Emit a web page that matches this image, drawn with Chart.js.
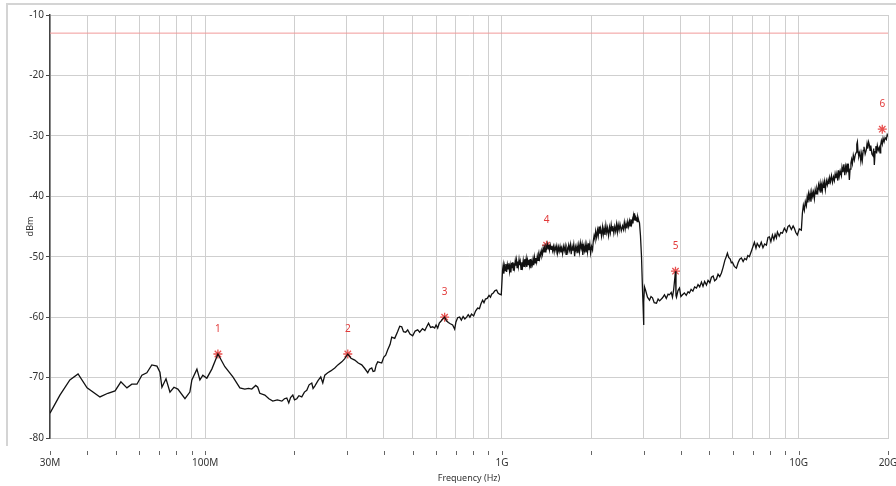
<!DOCTYPE html>
<html>
<head>
<meta charset="utf-8">
<script src="https://cdn.jsdelivr.net/npm/chart.js@4"></script>
<style>
  html, body { margin: 0; padding: 0; background: #fff; }
  #wrap { width: 896px; height: 486px; position: relative; }
</style>
</head>
<body>
<div id="wrap"><canvas id="c" width="896" height="486"></canvas></div>
<script>
"use strict";
// spectrum trace, [frequency in MHz, level in dBm]
const trace = [
  [30,-75.9],[32.4,-72.9],[35,-70.4],[37.3,-69.4],[40,-71.7],[44.2,-73.2],[47,-72.6],[49.7,-72.2],
  [52,-70.7],[54.5,-71.7],[56.6,-71.1],[58.9,-71.1],[61.2,-69.6],[63.6,-69.2],[66.1,-67.9],[68.8,-68.1],
  [70.4,-69.1],[71.5,-71.6],[73.8,-70.2],[76.1,-72.4],[78.5,-71.6],[80.9,-71.9],[85.5,-73.5],[88.8,-72.4],
  [90.2,-70.4],[93.8,-68.6],[96,-70.4],[98.2,-69.6],[101.3,-70.1],[105.3,-68.6],[110.4,-66.1],
  [116.5,-68.2],[124,-69.9],[130.9,-71.7],[136,-71.9],[140,-71.8],[143.6,-71.9],[148,-71.3],[150.4,-71.6],
  [152.8,-72.6],[158.9,-72.9],[164,-73.5],[169,-73.9],[175,-73.7],[181.3,-73.9],[185,-73.5],[188.4,-73.4],
  [191.3,-74.2],[194,-73.3],[197.4,-72.9],[200,-73.7],[203.6,-73.5],[207,-73.0],[211.6,-73.2],[216,-72.4],
  [220,-72.1],[224,-71.2],[228.7,-70.9],[231,-71.8],[234.1,-71.4],[240,-70.5],[245.2,-69.9],[249.1,-70.9],
  [253,-69.6],[258.9,-69.2],[265,-68.9],[273.4,-68.4],[280,-67.9],[288.7,-67.4],[295,-66.9],[302.4,-66.1],
  [310,-66.8],[319.2,-67.1],[328,-67.6],[337,-67.9],[345,-68.5],[353.1,-69.2],[358,-68.6],[364.2,-68.4],
  [368,-69.0],[372.8,-68.9],[377,-67.9],[381.6,-67.4],[393.5,-67.6],[400,-66.6],[405.9,-66.3],[412.3,-65.4],
  [420,-64.5],[425.3,-63.3],[435.3,-63.5],[445,-62.4],[452.5,-61.5],[459.6,-61.6],[466,-62.4],[474,-62.5],
  [481.4,-62.1],[490,-62.8],[500.4,-63.1],[510,-62.3],[520.2,-62.1],[528.3,-62.5],[540,-61.9],[550,-62.2],
  [557.8,-61.6],[566,-61.0],[575,-61.7],[584.4,-61.6],[593.5,-61.8],[600,-61.3],[607.5,-61.8],[615,-61.0],
  [625,-60.6],[632,-60.3],[641.2,-60.0],[650,-60.6],[660,-60.9],[670,-61.1],[682.3,-61.3],[693,-62.0],
  [700,-60.8],[709.3,-60.1],[720.4,-60.0],[730,-60.5],[740,-59.9],[750,-60.3],[760.5,-60.0],[770,-59.6],
  [780,-60.0],[790,-59.5],[803,-59.8],[815,-59.0],[828.3,-58.5],[840,-58.6],[850,-57.8],[861,-57.2],
  [870,-57.6],[880,-57.0],[892,-56.9],[905,-56.4],[915,-56.7],[923.4,-56.2],[935,-56.0],[948,-55.6],
  [959.8,-55.5],[970,-56.0],[982.2,-56.2],[995,-56.3],
  [1005,-52.2],[1010,-51.4],[1015,-52.8],[1020,-51.6],[1025,-52.3],[1031,-51.2],[1037,-52.5],[1043,-51.3],
  [1049,-52.0],[1055,-51.1],[1061,-52.4],[1066,-51.5],[1072,-52.6],[1078,-51.0],[1083,-51.8],[1088,-50.9],
  [1093,-52.2],[1098,-51.1],[1103,-51.8],[1109,-50.7],[1114,-51.5],[1120,-50.6],[1125,-51.8],[1131,-50.8],
  [1136,-51.6],[1142,-50.5],[1147,-51.4],[1153,-50.8],[1160,-52.1],[1167,-50.9],[1174,-51.6],[1180,-50.6],
  [1187,-51.6],[1193,-50.4],[1200,-51.2],[1207,-50.3],[1213,-51.7],[1220,-50.6],[1226,-51.3],[1233,-50.5],
  [1239,-51.4],[1246,-50.4],[1252,-51.9],[1259,-50.8],[1266,-51.3],[1273,-50.4],[1280,-51.4],[1287,-50.1],
  [1294,-51.0],[1301,-50.2],[1309,-50.9],[1316,-49.9],[1324,-50.6],[1331,-49.7],[1339,-50.3],[1346,-49.3],
  [1354,-49.8],[1362,-49.0],[1370,-49.6],[1377,-48.6],[1385,-49.3],[1392,-48.5],[1400,-49.2],[1407,-48.3],
  [1414,-48.6],[1422,-47.9],[1430,-48.7],[1438,-48.0],[1446,-48.9],[1455,-48.1],[1464,-48.8],[1473,-48.2],
  [1482,-49.0],[1491,-48.3],[1500,-49.2],[1510,-48.3],[1520,-48.9],[1530,-48.2],[1540,-49.4],[1550,-48.4],
  [1560,-49.1],[1570,-48.3],[1580,-49.3],[1590,-48.6],[1601,-49.5],[1611,-48.3],[1622,-49.0],[1633,-48.2],
  [1645,-49.6],[1656,-48.5],[1668,-49.1],[1679,-48.1],[1690,-48.9],[1701,-48.0],[1712,-49.6],[1724,-48.3],
  [1735,-49.0],[1746,-48.0],[1758,-49.9],[1769,-48.4],[1780,-49.0],[1791,-48.2],[1803,-49.4],[1815,-48.1],
  [1826,-49.2],[1838,-47.7],[1850,-48.6],[1862,-47.9],[1873,-49.7],[1885,-48.3],[1897,-49.0],[1908,-48.0],
  [1920,-49.3],[1932,-48.1],[1943,-49.2],[1955,-47.8],[1965,-48.9],[1978,-47.9],[1990,-49.4],[2005,-48.3],
  [2020,-48.9],[2032,-47.4],[2045,-46.5],[2058,-47.1],[2070,-45.8],[2085,-46.8],[2100,-45.6],[2112,-46.5],
  [2125,-45.0],[2138,-46.2],[2150,-45.4],[2166,-46.6],[2183,-45.1],[2196,-46.3],[2210,-45.3],[2225,-46.4],
  [2240,-44.8],[2255,-46.0],[2270,-45.2],[2288,-46.5],[2305,-45.1],[2320,-46.0],[2335,-44.7],[2350,-45.7],
  [2365,-44.9],[2383,-46.1],[2400,-45.0],[2417,-45.8],[2434,-44.6],[2450,-45.9],[2465,-44.7],[2483,-45.6],
  [2500,-44.6],[2525,-45.7],[2549,-44.9],[2567,-45.5],[2585,-44.3],[2603,-45.4],[2620,-44.5],[2638,-45.3],
  [2655,-44.2],[2673,-45.0],[2691,-44.1],[2705,-44.9],[2720,-43.8],[2737,-44.6],[2754,-43.9],[2765,-44.5],
  [2775,-43.3],[2787,-43.9],[2798,-42.8],[2810,-43.9],[2820,-43.2],[2831,-44.0],[2841,-43.5],[2855,-44.2],
  [2870,-43.4],[2890,-44.0],[2908,-44.4],[2930,-46.5],[2954,-50.0],[2977,-55.5],[2990,-58.0],[3000,-61.3],
  [3010,-57.5],[3023,-55.0],[3050,-55.6],[3094,-56.7],[3143,-57.2],[3180,-56.6],[3217,-56.8],[3260,-57.6],
  [3318,-57.7],[3360,-57.0],[3400,-57.3],[3477,-56.8],[3530,-56.3],[3580,-56.9],[3630,-56.2],[3669,-56.3],
  [3720,-55.9],[3756,-56.7],[3790,-55.5],[3845,-52.4],[3860,-56.4],[3875,-56.7],[3920,-55.6],[3966,-55.2],
  [4010,-56.6],[4059,-56.3],[4120,-56.0],[4180,-56.4],[4240,-55.8],[4286,-56.0],[4340,-55.4],[4400,-55.7],
  [4460,-55.0],[4525,-55.2],[4580,-54.6],[4640,-55.0],[4703,-54.2],[4760,-54.9],[4820,-54.1],[4889,-54.7],
  [4950,-53.9],[5020,-54.3],[5082,-53.4],[5150,-53.2],[5210,-54.0],[5283,-53.7],[5350,-52.9],[5420,-53.3],
  [5492,-52.7],[5560,-51.8],[5640,-50.6],[5700,-50.0],[5753,-49.4],[5810,-50.1],[5880,-50.4],[5930,-51.0],
  [5981,-50.9],[6070,-51.6],[6169,-51.9],[6250,-51.0],[6330,-50.4],[6413,-50.2],[6500,-50.8],[6580,-50.3],
  [6666,-50.5],[6740,-49.8],[6823,-50.0],[6950,-48.9],[7093,-47.6],[7180,-48.6],[7250,-47.8],[7373,-48.4],
  [7480,-47.6],[7580,-48.5],[7680,-47.9],[7786,-48.1],[7880,-46.8],[7970,-46.7],[8060,-47.5],[8157,-46.4],
  [8250,-47.2],[8330,-46.3],[8414,-46.9],[8480,-45.9],[8600,-46.6],[8700,-46.0],[8815,-46.1],[8950,-45.3],
  [9100,-45.9],[9200,-45.0],[9305,-44.8],[9450,-45.5],[9580,-44.9],[9672,-45.3],[9780,-46.0],[9899,-46.4],
  [10050,-45.4],[10211,-45.6],
  [10292,-42.8],[10370,-41.5],[10450,-42.3],[10530,-40.9],[10615,-41.6],[10680,-40.2],[10740,-41.0],[10800,-39.6],
  [10865,-40.4],[10930,-39.5],[11000,-40.9],[11080,-39.2],[11150,-40.0],[11220,-39.3],[11295,-40.4],[11370,-38.9],
  [11450,-39.6],[11520,-38.7],[11600,-39.3],[11670,-38.1],[11741,-38.8],[11810,-37.9],[11880,-39.4],[11950,-38.2],
  [12017,-39.0],[12080,-37.8],[12150,-38.6],[12220,-37.6],[12300,-38.9],[12400,-37.4],[12492,-38.1],[12570,-37.3],
  [12650,-38.0],[12720,-36.9],[12800,-37.6],[12900,-36.6],[13000,-37.7],[13100,-36.8],[13192,-37.4],[13270,-36.3],
  [13350,-37.0],[13450,-36.2],[13550,-37.4],[13620,-35.7],[13700,-36.7],[13800,-35.8],[13929,-36.6],[14000,-35.2],
  [14100,-36.0],[14200,-34.7],[14300,-36.5],[14400,-35.1],[14479,-35.8],[14560,-34.6],[14650,-36.0],[14730,-35.3],
  [14820,-37.3],[14900,-35.5],[15000,-34.5],[15080,-33.9],[15169,-34.6],[15280,-33.2],[15400,-34.0],[15520,-33.1],
  [15647,-32.7],[15700,-31.4],[15769,-31.0],[15850,-32.6],[15950,-33.4],[16080,-32.7],[16200,-34.2],[16300,-33.0],
  [16390,-34.0],[16500,-32.4],[16600,-31.8],[16750,-33.0],[16900,-32.3],[17000,-31.3],[17100,-32.1],[17200,-31.0],
  [17308,-31.5],[17400,-32.4],[17500,-31.6],[17650,-33.0],[17800,-33.3],[17900,-32.1],[17987,-34.8],[18100,-32.6],
  [18200,-31.7],[18300,-32.9],[18411,-31.6],[18550,-32.4],[18700,-31.9],[18800,-32.8],[18900,-31.5],[19000,-30.8],
  [19130,-31.4],[19250,-30.4],[19400,-31.0],[19550,-30.3],[19741,-30.6],[19880,-29.8],[20000,-30.1]
];

// peak markers 1..6
const markerFreq = [110.4, 302.4, 641.2, 1414, 3845, 19130];
const markerLevel = [-66.1, -66.1, -60.0, -48.1, -52.4, -28.9];
const markerNames = ["1", "2", "3", "4", "5", "6"];

const limitLevel = -13;
const freqMin = 30, freqMax = 20000;

const xTickVals = [30, 40, 50, 60, 70, 80, 90, 100, 200, 300, 400, 500, 600, 700, 800, 900,
  1000, 2000, 3000, 4000, 5000, 6000, 7000, 8000, 9000, 10000, 20000];
const xTickNames = { 30: "30M", 100: "100M", 1000: "1G", 10000: "10G", 20000: "20G" };
const yTickVals = [-80, -70, -60, -50, -40, -30, -20, -10];

const FONT = "'Noto Sans', 'DejaVu Sans', sans-serif";
const GRID = "#cfcfcf";

const decor = {
  id: "decor",
  beforeDraw(chart) {
    const { ctx } = chart;
    ctx.save();
    ctx.strokeStyle = "#d4d4d4";
    ctx.lineWidth = 2;
    ctx.beginPath();
    ctx.moveTo(7, 446); ctx.lineTo(7, 4); ctx.lineTo(896, 4);
    ctx.stroke();
    ctx.restore();
  },
  afterDraw(chart) {
    const { ctx, chartArea } = chart;
    const x = chart.scales.x;
    ctx.save();
    ctx.strokeStyle = "#666";
    ctx.lineWidth = 1;
    x.ticks.forEach((t) => {
      const px = Math.round(x.getPixelForValue(t.value)) + 0.5;
      ctx.beginPath();
      ctx.moveTo(px, chartArea.bottom + 13);
      ctx.lineTo(px, chartArea.bottom + 17);
      ctx.stroke();
    });
    // marker numbers
    const meta = chart.getDatasetMeta(2);
    ctx.fillStyle = "#e23a3a";
    ctx.font = "10px " + FONT;
    ctx.textAlign = "center";
    ctx.textBaseline = "middle";
    meta.data.forEach((pt, i) => ctx.fillText(markerNames[i], pt.x, pt.y - 25));
    ctx.restore();
  },
};

new Chart(document.getElementById("c"), {
  type: "line",
  data: {
    datasets: [
      { data: [{ x: freqMin, y: limitLevel }, { x: freqMax, y: limitLevel }],
        borderColor: "#f19a9a", borderWidth: 1, pointRadius: 0 },
      { data: trace.map((p) => ({ x: p[0], y: p[1] })),
        borderColor: "#111", borderWidth: 1.3, pointRadius: 0, tension: 0 },
      { data: markerFreq.map((f, i) => ({ x: f, y: markerLevel[i] })),
        showLine: false, pointStyle: "star", pointRadius: 4.5, borderWidth: 1.3,
        borderColor: "#e8504f", backgroundColor: "#e8504f" },
    ],
  },
  options: {
    responsive: false, animation: false,
    layout: { padding: { top: 15, right: 8, left: 0, bottom: 0 } },
    plugins: { legend: { display: false }, tooltip: { enabled: false } },
    scales: {
      x: {
        type: "logarithmic", min: freqMin, max: freqMax,
        afterBuildTicks: (s) => { s.ticks = xTickVals.map((v) => ({ value: v })); },
        afterFit: (s) => { s.height = 48; s.paddingLeft = 0; s.paddingRight = 0; },
        ticks: { autoSkip: false, maxRotation: 0, padding: 19, color: "#333",
          font: { family: FONT, size: 10 },
          callback: (v) => xTickNames[v] || "" },
        grid: { color: GRID, drawTicks: false },
        border: { color: GRID },
        title: { display: true, text: "Frequency (Hz)", color: "#333",
          font: { family: FONT, size: 9 }, padding: { top: 0, bottom: 2 } },
      },
      y: {
        min: -80, max: -10,
        afterBuildTicks: (s) => { s.ticks = yTickVals.map((v) => ({ value: v })); },
        afterFit: (s) => { s.width = 50; s.paddingTop = 0; s.paddingBottom = 0; },
        ticks: { padding: 2, color: "#333", font: { family: FONT, size: 10 } },
        grid: { color: GRID, tickLength: 4, tickColor: "#444" },
        border: { color: "#444", width: 1.5 },
        title: { display: true, text: "dBm", color: "#333",
          font: { family: FONT, size: 9 }, padding: { top: 25, bottom: 0 } },
      },
    },
  },
  plugins: [decor],
});
</script>
</body>
</html>
